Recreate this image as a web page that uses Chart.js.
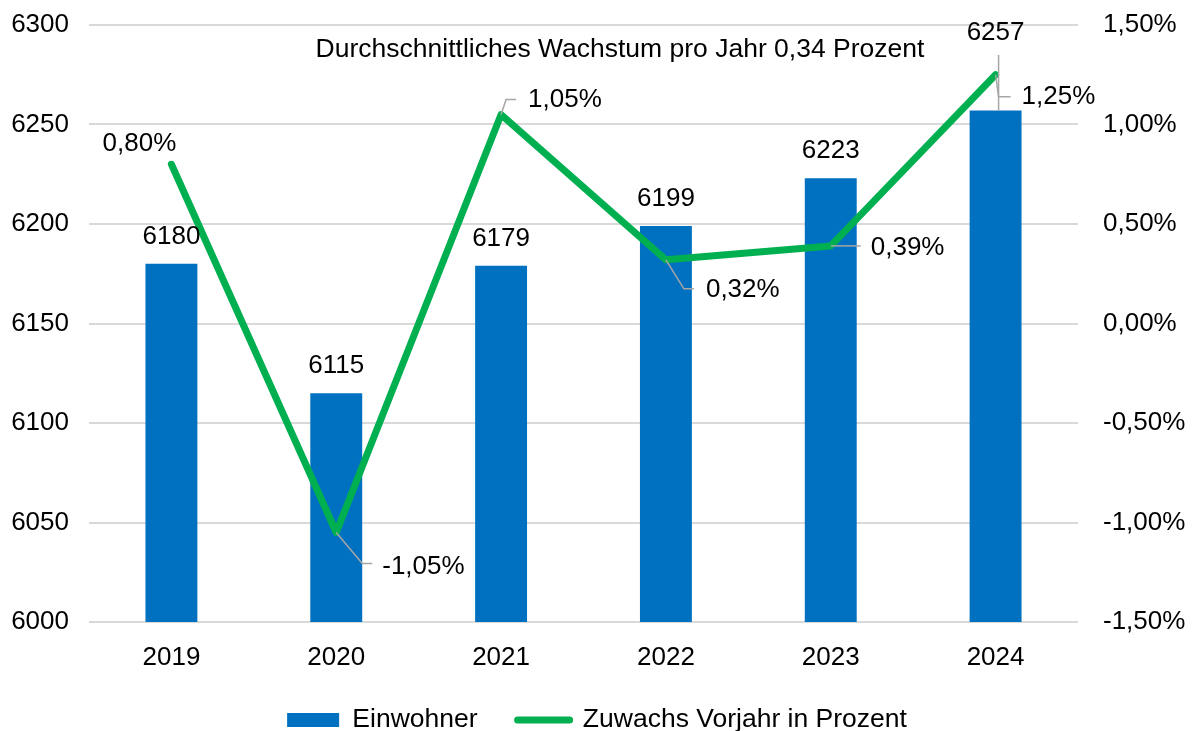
<!DOCTYPE html>
<html>
<head>
<meta charset="utf-8">
<script src="https://cdn.jsdelivr.net/npm/chart.js@4.4.1/dist/chart.umd.min.js"></script>
<style>
  html, body { margin: 0; padding: 0; background: #fff; }
  #wrap { width: 1194px; height: 731px; position: relative; }
</style>
</head>
<body>
<div id="wrap"><canvas id="c" width="1194" height="731"></canvas></div>
<script>
// ---- data ----
const years = ['2019', '2020', '2021', '2022', '2023', '2024'];
const einwohner = [6180, 6115, 6179, 6199, 6223, 6257];
const zuwachs = [0.80, -1.05, 1.05, 0.32, 0.39, 1.25];
const leftTicks = { min: 6000, max: 6300, step: 50 };
const rightTicks = { min: -1.5, max: 1.5, step: 0.5 };
const titleText = 'Durchschnittliches Wachstum pro Jahr 0,34 Prozent';
const seriesNames = ['Einwohner', 'Zuwachs Vorjahr in Prozent'];

// ---- styles ----
const FONT = '"Liberation Sans", Arial, sans-serif';
const FS = 26;
const BLUE = '#0070C0';
const GREEN = '#00B050';
const GRID = '#D9D9D9';
const LEADER = '#A6A6A6';

// label placement (styling) for line labels: leader path offsets and text offset relative to point
const lineLabelLayout = [
  { path: [], text: [-32, -20], align: 'center' },
  { path: [[26, 31], [36, 31]], text: [46, 34], align: 'left' },
  { path: [[5, -15], [15, -15]], text: [27, -15], align: 'left' },
  { path: [[18, 29], [28, 29]], text: [40, 30], align: 'left' },
  { path: [[30, 0]], text: [40, 2], align: 'left' },
  { path: [[3, 22], [15, 22]], text: [26, 22], align: 'left' }
];

const fmtPct = v => v.toFixed(2).replace('.', ',') + '%';

const labelPlugin = {
  id: 'labels',
  afterDatasetsDraw(chart) {
    const ctx = chart.ctx;
    const barMeta = chart.getDatasetMeta(0);
    const lineMeta = chart.getDatasetMeta(1);
    ctx.save();
    ctx.font = FS + 'px ' + FONT;
    ctx.fillStyle = '#000';
    ctx.textBaseline = 'middle';
    // bar labels
    barMeta.data.forEach((bar, i) => {
      const x = bar.x;
      let y = bar.y - 27;
      ctx.textAlign = 'center';
      if (i === 5) {
        y = 33;
        ctx.strokeStyle = LEADER; ctx.lineWidth = 1.5;
        ctx.beginPath(); ctx.moveTo(x + 3, 55); ctx.lineTo(x + 3, bar.y); ctx.stroke();
      }
      ctx.fillText(String(einwohner[i]), x, y);
    });
    // line labels
    lineMeta.data.forEach((pt, i) => {
      const L = lineLabelLayout[i];
      if (L.path.length) {
        ctx.strokeStyle = LEADER; ctx.lineWidth = 1.5;
        ctx.beginPath(); ctx.moveTo(pt.x, pt.y);
        L.path.forEach(p => ctx.lineTo(pt.x + p[0], pt.y + p[1]));
        ctx.stroke();
      }
      ctx.textAlign = L.align;
      ctx.fillText(fmtPct(zuwachs[i]), pt.x + L.text[0], pt.y + L.text[1]);
    });
    // title text
    ctx.textAlign = 'center';
    ctx.font = '26.5px ' + FONT;
    ctx.fillText(titleText, 620, 50);
    ctx.restore();
  }
};

new Chart(document.getElementById('c'), {
  type: 'bar',
  data: {
    labels: years,
    datasets: [
      {
        type: 'bar', label: seriesNames[0], data: einwohner, yAxisID: 'y',
        backgroundColor: BLUE, borderWidth: 0,
        barPercentage: 0.315, categoryPercentage: 1, order: 1
      },
      {
        type: 'line', label: seriesNames[1], data: zuwachs, yAxisID: 'y1',
        borderColor: GREEN, backgroundColor: GREEN, borderWidth: 7,
        pointRadius: 0, tension: 0, borderCapStyle: 'round', borderJoinStyle: 'round', order: 0
      }
    ]
  },
  plugins: [labelPlugin],
  options: {
    responsive: false,
    animation: false,
    layout: { padding: { top: 25, left: 0, right: 0, bottom: 0 } },
    plugins: {
      tooltip: { enabled: false },
      legend: {
        position: 'bottom',
        maxHeight: 64.25,
        labels: {
          font: { family: FONT, size: 26.5 },
          color: '#000',
          usePointStyle: true,
          pointStyleWidth: 52,
          boxHeight: 14,
          padding: 40,
          generateLabels() {
            return [
              { text: seriesNames[0], fillStyle: BLUE, strokeStyle: BLUE, lineWidth: 0, pointStyle: 'rect', datasetIndex: 0 },
              { text: seriesNames[1], fillStyle: GREEN, strokeStyle: GREEN, lineWidth: 7, lineCap: 'round', pointStyle: 'line', datasetIndex: 1 }
            ];
          }
        }
      }
    },
    scales: {
      x: {
        grid: { display: false, drawTicks: false },
        border: { display: false },
        ticks: { color: '#000', font: { family: FONT, size: FS }, padding: 20 },
        afterFit(s) { s.height = 44.75; }
      },
      y: {
        position: 'left',
        min: leftTicks.min, max: leftTicks.max,
        ticks: { stepSize: leftTicks.step, color: '#000', font: { family: FONT, size: FS }, padding: 20, callback: v => String(v) },
        grid: { color: GRID, lineWidth: 2, drawTicks: false },
        border: { display: false },
        afterFit(s) { s.width = 89; s.paddingTop = 0; s.paddingBottom = 0; }
      },
      y1: {
        position: 'right',
        min: rightTicks.min, max: rightTicks.max,
        ticks: { stepSize: rightTicks.step, color: '#000', font: { family: FONT, size: FS }, padding: 25, callback: v => fmtPct(v) },
        grid: { display: false, drawTicks: false },
        border: { display: false },
        afterFit(s) { s.width = 116; s.paddingTop = 0; s.paddingBottom = 0; }
      }
    }
  }
});
</script>
</body>
</html>
